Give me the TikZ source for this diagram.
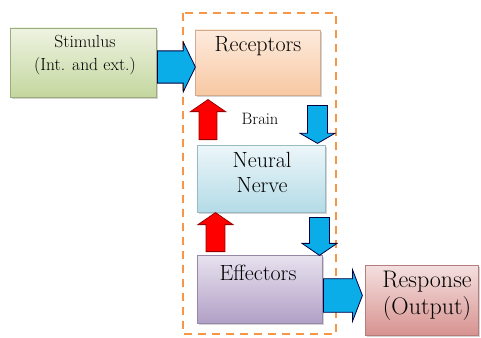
\documentclass[tikz,border=0pt]{standalone}
\usepackage{fontspec}
\usetikzlibrary{shapes.arrows,shadows}

\definecolor{stimlight}{HTML}{EEF3E2}
\definecolor{stimdark}{HTML}{C4D79E}
\definecolor{reclight}{HTML}{FDEBDD}
\definecolor{recdark}{HTML}{F8C8A3}
\definecolor{neurlight}{HTML}{EDF6F9}
\definecolor{neurdark}{HTML}{B3DBE7}
\definecolor{effelight}{HTML}{E8E2EF}
\definecolor{effedark}{HTML}{B1A0C6}
\definecolor{resplight}{HTML}{F4E0DF}
\definecolor{respdark}{HTML}{D79390}
\definecolor{arrowblue}{HTML}{0AADE8}
\definecolor{arrowred}{HTML}{FF0000}
\definecolor{dashorange}{HTML}{F79646}

\tikzset{
  box/.style={rectangle, draw=#1, line width=0.6pt,
    drop shadow={shadow xshift=2pt, shadow yshift=-2pt, opacity=0.35}},
  boxtext/.style={align=center, inner sep=0pt, text=black},
  bluearrow/.style={single arrow, draw=black!75!blue, line width=0.8pt,
    fill=arrowblue, inner sep=0pt, single arrow head indent=0pt},
  redarrow/.style={single arrow, draw=red!60!black, line width=0.8pt,
    fill=arrowred, inner sep=0pt, single arrow head indent=0pt}
}

\begin{document}
\begin{tikzpicture}[x=1pt,y=-1pt]
  \useasboundingbox (0,0) rectangle (481,337);
  \draw[dashorange,line width=2.5pt,dash pattern=on 8pt off 6pt] (183,13) rectangle (336,334);

  \node[box=stimdark!80!black, top color=stimlight, bottom color=stimdark,
    minimum width=146pt, minimum height=69pt] (stim) at (83,62.5) {};
  \node[box=recdark!85!black, top color=reclight, bottom color=recdark,
    minimum width=125pt, minimum height=65pt] (rec) at (257.5,62.5) {};
  \node[box=neurdark!85!black, top color=neurlight, bottom color=neurdark,
    minimum width=128pt, minimum height=67pt] (neur) at (261,178.5) {};
  \node[box=effedark!85!black, top color=effelight, bottom color=effedark,
    minimum width=125pt, minimum height=68pt] (effe) at (259.5,289) {};
  \node[box=respdark!85!black, top color=resplight, bottom color=respdark,
    minimum width=113pt, minimum height=70pt] (resp) at (421.5,300) {};

  \node[boxtext, font=\fontsize{17.5}{23}\selectfont] (stimtxt) at (85,55) {Stimulus\\(Int. and ext.)};
  \node[boxtext, font=\fontsize{22}{25}\selectfont] (rectxt) at (258,46) {Receptors};
  \node[boxtext, font=\fontsize{16.5}{20}\selectfont] (brain) at (260,119) {Brain};
  \node[boxtext, font=\fontsize{22}{25}\selectfont] (neurtxt) at (262,172) {Neural\\Nerve};
  \node[boxtext, font=\fontsize{22}{25}\selectfont] (effetxt) at (258,273) {Effectors};
  \node[boxtext, font=\fontsize{24}{27}\selectfont] (resptxt) at (427,296) {Response\\(Output)};

  \node[bluearrow, anchor=tail, minimum height=38pt, minimum width=50pt,
    inner ysep=12.5pt, single arrow tip angle=128] (a1) at (157,67) {};
  \node[redarrow, shape border rotate=90, anchor=tail, minimum height=40pt, minimum width=35pt,
    inner xsep=7pt, single arrow tip angle=111] (a2) at (208,140) {};
  \node[bluearrow, shape border rotate=270, anchor=tail, minimum height=38pt, minimum width=35pt,
    inner xsep=9pt, single arrow tip angle=120] (a3) at (317.5,105) {};
  \node[redarrow, shape border rotate=90, anchor=tail, minimum height=39pt, minimum width=35pt,
    inner xsep=8pt, single arrow tip angle=111] (a4) at (215.5,252) {};
  \node[bluearrow, shape border rotate=270, anchor=tail, minimum height=38pt, minimum width=35pt,
    inner xsep=9pt, single arrow tip angle=111] (a5) at (319.5,217) {};
  \node[bluearrow, anchor=tail, minimum height=39pt, minimum width=52pt,
    inner ysep=12.5pt, single arrow tip angle=138] (a6) at (323,295.5) {};
\end{tikzpicture}
\end{document}
